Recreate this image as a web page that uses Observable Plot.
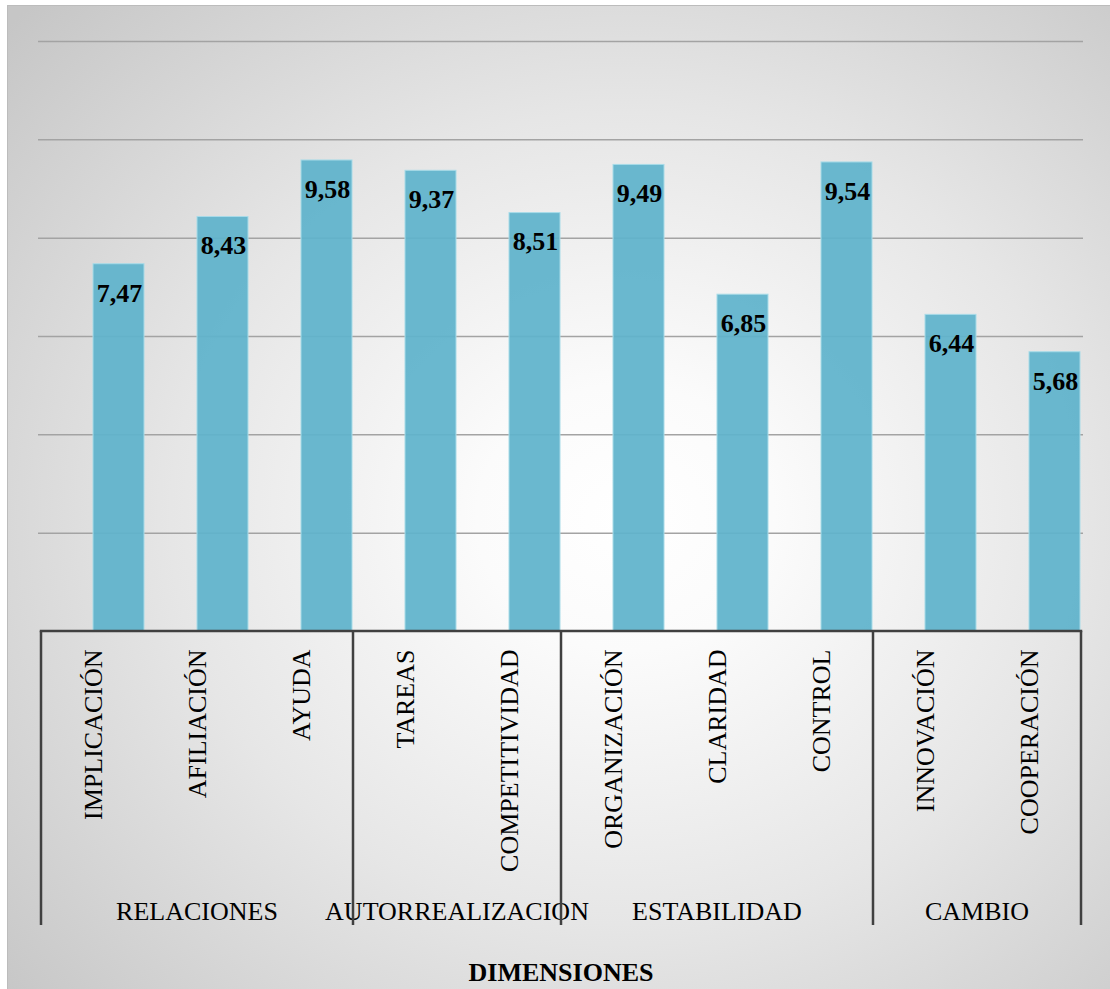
<!DOCTYPE html>
<html>
<head>
<meta charset="utf-8">
<script src="https://cdn.jsdelivr.net/npm/d3@7"></script>
<script src="https://cdn.jsdelivr.net/npm/@observablehq/plot@0.6"></script>
<style>
  html, body { margin: 0; padding: 0; background: #ffffff; }
  #bg {
    position: absolute; left: 7px; top: 5px; width: 1103px; height: 984px;
    border-left: 1px solid #bcbcbc; border-top: 1px solid #bcbcbc;
    background: radial-gradient(ellipse 75% 75% at 56% 52%, #ffffff 0%, #fbfbfb 18%, #e6e6e6 55%, #c6c6c6 100%);
  }
  #chart { position: absolute; left: 0; top: 0; width: 1110px; height: 989px; }
  #chart svg { max-width: none !important; width: 1110px; height: 989px; background: transparent; }
</style>
</head>
<body>
<div id="bg"></div>
<div id="chart"></div>
<script>
const categories = ["IMPLICACIÓN", "AFILIACIÓN", "AYUDA", "TAREAS", "COMPETITIVIDAD", "ORGANIZACIÓN", "CLARIDAD", "CONTROL", "INNOVACIÓN", "COOPERACIÓN"];
const values = [7.47, 8.43, 9.58, 9.37, 8.51, 9.49, 6.85, 9.54, 6.44, 5.68];
const valueLabels = ["7,47", "8,43", "9,58", "9,37", "8,51", "9,49", "6,85", "9,54", "6,44", "5,68"];
const groups = ["RELACIONES", "AUTORREALIZACION", "ESTABILIDAD", "CAMBIO"];
const groupSizes = [3, 2, 3, 2];
const gridTicks = [2, 4, 6, 8, 10, 12];
const axisTitle = "DIMENSIONES";

const data = categories.map((c, i) => ({category: c, value: values[i], label: valueLabels[i]}));

const serif = "'Liberation Serif', 'Times New Roman', serif";

function groupAxis(index, scales, values, dims) {
  const x = scales.x, y = scales.y;
  const bw = x.bandwidth();
  const y0 = y(0);
  const g = d3.create("svg:g");
  let start = 0;
  const bounds = [x(categories[0])];
  groups.forEach((name, gi) => {
    const first = categories[start];
    const last = categories[start + groupSizes[gi] - 1];
    const x1 = x(first), x2 = x(last) + bw;
    bounds.push(x2);
    g.append("text")
      .attr("x", (x1 + x2) / 2)
      .attr("y", y0 + 289)
      .attr("text-anchor", "middle")
      .attr("font-family", serif)
      .attr("font-size", 26)
      .attr("fill", "#000")
      .text(name);
    start += groupSizes[gi];
  });
  bounds.forEach(bx => {
    g.append("line")
      .attr("x1", bx).attr("x2", bx)
      .attr("y1", y0).attr("y2", y0 + 294)
      .attr("stroke", "#404040").attr("stroke-width", 2.5);
  });
  g.append("line")
    .attr("x1", bounds[0] - 1.25).attr("x2", bounds[bounds.length - 1] + 1.25)
    .attr("y1", y0).attr("y2", y0)
    .attr("stroke", "#404040").attr("stroke-width", 2.5);
  g.append("text")
    .attr("x", (bounds[0] + bounds[bounds.length - 1]) / 2)
    .attr("y", y0 + 350)
    .attr("text-anchor", "middle")
    .attr("font-family", serif)
    .attr("font-weight", "bold")
    .attr("font-size", 26)
    .attr("fill", "#000")
    .text(axisTitle);
  return g.node();
}

const plot = Plot.plot({
  width: 1110,
  height: 989,
  marginLeft: 38,
  marginRight: 27,
  marginTop: 41,
  marginBottom: 358,
  style: {background: "transparent", overflow: "visible"},
  x: {domain: categories, padding: 0, axis: null},
  y: {domain: [0, 12], axis: null},
  marks: [
    Plot.ruleY(gridTicks, {stroke: "#a3a3a3", strokeWidth: 1.5}),
    Plot.barY(data, {
      x: "category", y: "value",
      insetLeft: 52, insetRight: 1,
      fill: "#5fb3cb", fillOpacity: 0.93,
      stroke: "#a8dbe8", strokeWidth: 1
    }),
    Plot.text(data, {
      x: "category", y: "value", text: "label",
      dx: 26, dy: 29,
      fontFamily: serif, fontWeight: "bold", fontSize: 26, fill: "#000"
    }),
    Plot.text(data, {
      x: "category", y: () => 0, text: "category",
      rotate: -90, textAnchor: "end", dy: 18,
      fontFamily: serif, fontSize: 26, fill: "#000"
    }),
    groupAxis
  ]
});
document.getElementById("chart").appendChild(plot);
</script>
</body>
</html>
